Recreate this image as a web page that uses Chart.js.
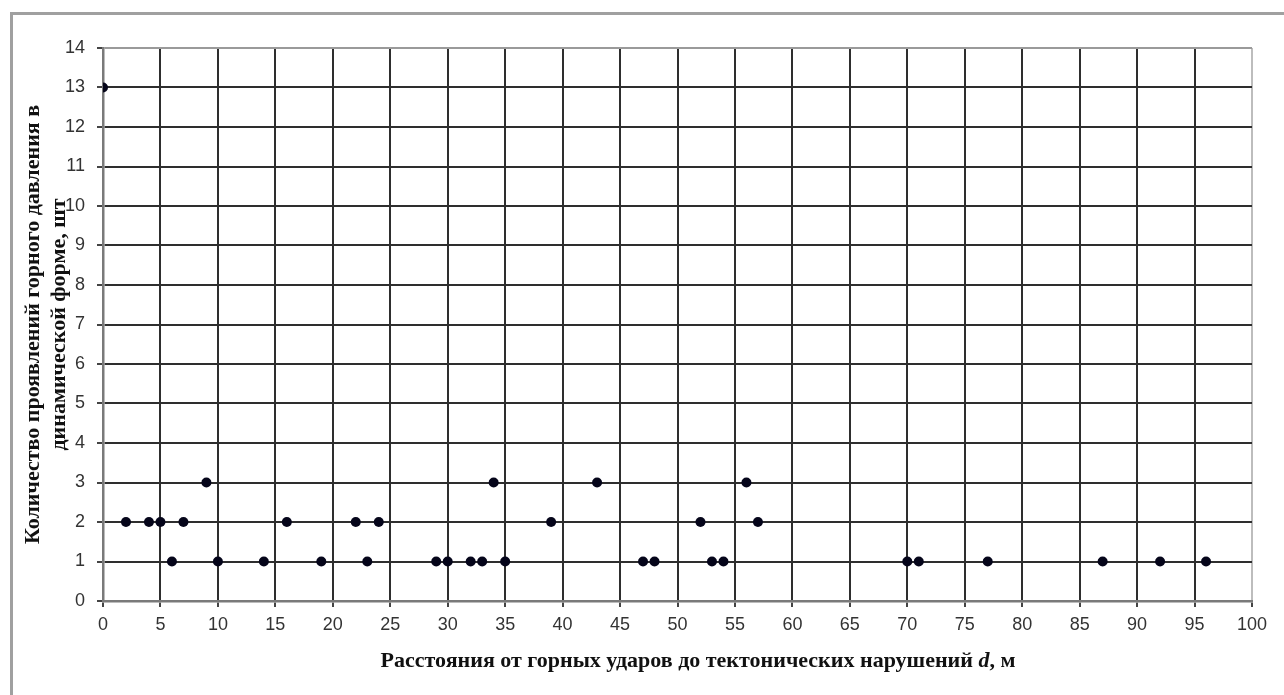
<!DOCTYPE html>
<html>
<head>
<meta charset="utf-8">
<script src="https://cdn.jsdelivr.net/npm/chart.js@4.4.1/dist/chart.umd.min.js"></script>
<style>
  html, body { margin: 0; padding: 0; background: #fff; }
  #wrap { position: relative; width: 1284px; height: 695px; }
  #frame { position: absolute; left: 10px; top: 12px; right: 0; bottom: 0;
           border-left: 3px solid #a0a0a0; border-top: 3px solid #a0a0a0; }
  canvas { position: absolute; left: 0; top: 0; }
</style>
</head>
<body>
<div id="wrap">
  <div id="frame"></div>
  <canvas id="chart" width="1284" height="695"></canvas>
</div>
<script>
// distance to tectonic faults, m
let distances = [0, 2, 4, 5, 6, 7, 9, 10, 14, 16, 19, 22, 23, 24, 29, 30, 32, 33, 34, 35,
                 39, 43, 47, 48, 52, 53, 54, 56, 57, 70, 71, 77, 87, 92, 96];
// number of rock bursts
let counts = [13, 2, 2, 2, 1, 2, 3, 1, 1, 2, 1, 2, 1, 2, 1, 1, 1, 1, 3, 1,
              2, 3, 1, 1, 2, 1, 1, 3, 2, 1, 1, 1, 1, 1, 1];

let xTitle = ['Расстояния от горных ударов до тектонических нарушений ', 'd', ', м'];
let yTitle = ['Количество проявлений горного давления в', 'динамической форме, шт'];

let points = distances.map((d, i) => ({ x: d, y: counts[i] }));

let titleFont = '"Liberation Serif", "Times New Roman", serif';

// axis titles drawn by hand so the "d" can be italic
let titlesPlugin = {
    id: 'titles',
    afterDraw(chart) {
        let ctx = chart.ctx;
        ctx.save();
        ctx.fillStyle = '#111';
        ctx.textBaseline = 'alphabetic';

        let fonts = ['bold 22px ' + titleFont, 'italic bold 22px ' + titleFont, 'bold 22px ' + titleFont];
        let widths = xTitle.map((t, i) => { ctx.font = fonts[i]; return ctx.measureText(t).width; });
        let total = widths.reduce((a, b) => a + b, 0);
        let x = 698 - total / 2;
        xTitle.forEach((t, i) => {
            ctx.font = fonts[i];
            ctx.textAlign = 'left';
            ctx.fillText(t, x, 667);
            x += widths[i];
        });

        let area = chart.chartArea;
        let cy = (area.top + area.bottom) / 2;
        ctx.translate(0, cy);
        ctx.rotate(-Math.PI / 2);
        ctx.font = fonts[0];
        ctx.textAlign = 'center';
        ctx.textBaseline = 'middle';
        ctx.fillText(yTitle[0], 0, 33);
        ctx.fillText(yTitle[1], 0, 59);
        ctx.restore();
    }
};

let ctx = document.getElementById('chart').getContext('2d');
let chart = new Chart(ctx, {
    type: 'scatter',
    data: {
        datasets: [{
            data: points,
            backgroundColor: '#05051a',
            borderWidth: 0,
            pointRadius: 5,
            pointHoverRadius: 5
        }]
    },
    options: {
        responsive: false,
        animation: false,
        layout: { padding: { top: 48, right: 32, left: 0, bottom: 0 } },
        plugins: {
            legend: { display: false },
            tooltip: { enabled: false }
        },
        scales: {
            x: {
                type: 'linear',
                min: 0,
                max: 100,
                afterFit: s => { s.height = 94; },
                ticks: {
                    stepSize: 5,
                    padding: 7,
                    color: '#333',
                    font: { family: '"Liberation Sans", Arial, sans-serif', size: 18 }
                },
                grid: {
                    color: c => c.index === 20 ? '#bdbdbd' : '#2e2e2e',
                    lineWidth: 2,
                    tickLength: 6,
                    tickColor: '#444'
                },
                border: { color: '#7a7a7a', width: 2.5 }
            },
            y: {
                min: 0,
                max: 14,
                afterFit: s => { s.width = 103; },
                ticks: {
                    stepSize: 1,
                    padding: 12,
                    color: '#333',
                    font: { family: '"Liberation Sans", Arial, sans-serif', size: 18 }
                },
                grid: {
                    color: c => c.index === 14 ? '#9a9a9a' : '#2e2e2e',
                    lineWidth: 2,
                    tickLength: 6,
                    tickColor: '#444'
                },
                border: { color: '#7a7a7a', width: 2.5 }
            }
        }
    },
    plugins: [titlesPlugin]
});
</script>
</body>
</html>
